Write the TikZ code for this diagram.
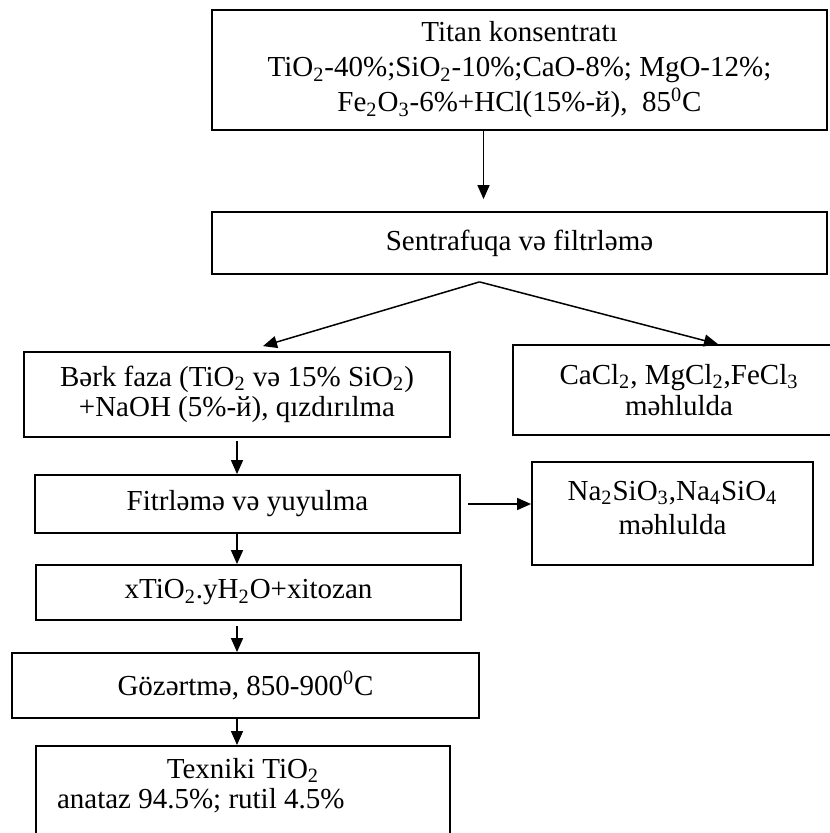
\documentclass[tikz,border=0pt]{standalone}
\usepackage{fontspec}
\setmainfont{Liberation Serif}
\usepackage{tikz}
\usetikzlibrary{arrows.meta,positioning,calc}

\begin{document}
\begin{tikzpicture}[
 x=0.5pt, y=-0.5pt,
 stage/.style={draw, line width=0.9pt, inner sep=0pt, align=center},
 flow/.style={-{Triangle[length=7pt,width=6pt]}, line width=0.75pt},
 font=\fontsize{14.5}{15}\selectfont
]
\useasboundingbox (0,0) rectangle (829,833);
\node[stage, minimum width=307.5pt, minimum height=60pt, font=\fontsize{14.5}{17.5}\selectfont] (conc) at (519.5,70) {Titan konsentratı\\ TiO\textsubscript{2}-40\%;SiO\textsubscript{2}-10\%;CaO-8\%; MgO-12\%;\\ Fe\textsubscript{2}O\textsubscript{3}-6\%+HCl(15\%-й), \ 85\textsuperscript{0}C};
\node[stage, minimum width=307.5pt, minimum height=31pt] (sep) at (519.5,243) {Sentrafuqa və filtrləmə};
\node[stage, minimum width=213pt, minimum height=42.5pt] (solid) at (237,394.5) {Bərk faza (TiO\textsubscript{2} və 15\% SiO\textsubscript{2})\\ +NaOH (5\%-й), qızdırılma};
\node[stage, minimum width=166pt, minimum height=45pt, font=\fontsize{14.5}{15.5}\selectfont] (chlor) at (679,390) {CaCl\textsubscript{2}, MgCl\textsubscript{2},FeCl\textsubscript{3}\\ məhlulda};
\node[stage, minimum width=212.5pt, minimum height=29pt] (wash) at (247.5,504) {Fitrləmə və yuyulma};
\node[stage, minimum width=140.5pt, minimum height=51.5pt, text depth=6pt, font=\fontsize{14.5}{17}\selectfont] (silic) at (672.5,513.5) {Na\textsubscript{2}SiO\textsubscript{3},Na\textsubscript{4}SiO\textsubscript{4}\\ məhlulda};
\node[stage, minimum width=212.5pt, minimum height=27.5pt] (gel) at (248.5,592.5) {xTiO\textsubscript{2}.yH\textsubscript{2}O+xitozan};
\node[stage, minimum width=233.5pt, minimum height=32.5pt] (fire) at (245.5,685.5) {Gözərtmə, 850-900\textsuperscript{0}C};
\node[stage, anchor=north] (tech) at (243,745) {\parbox[t][58pt][t]{207pt}{\vspace*{6pt}\centering Texniki TiO\textsubscript{2}\par\raggedright\hspace*{10.5pt}anataz 94.5\%; rutil 4.5\%}};

\coordinate (fork) at ([xshift=-20pt,yshift=-3.5pt]sep.south);
\draw[flow] ([xshift=-18pt]conc.south) -- ([xshift=-18pt,yshift=6pt]sep.north);
\draw[flow] (fork) -- ([xshift=13pt,yshift=2.5pt]solid.north);
\draw[flow] (fork) -- ([xshift=19.5pt]chlor.north);
\draw[flow, shorten <=1.5pt] (solid.south) -- (solid.south |- wash.north);
\draw[flow, shorten <=3.5pt] (wash.east) -- (wash.east -| silic.west);
\draw[flow] (wash.south -| solid.south) -- (gel.north -| solid.south);
\draw[flow, shorten <=2.5pt] (gel.south -| solid.south) -- (fire.north -| solid.south);
\draw[flow] (fire.south -| solid.south) -- (tech.north -| solid.south);
\end{tikzpicture}
\end{document}
